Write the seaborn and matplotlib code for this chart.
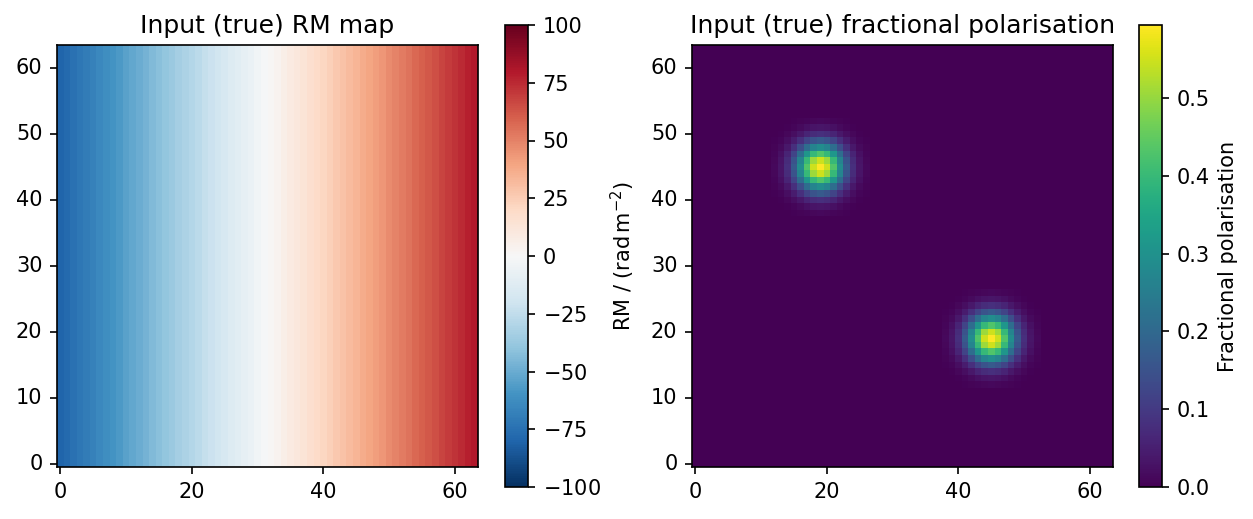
import numpy as np
import pandas as pd
import seaborn as sns
import matplotlib
matplotlib.use("Agg")
import matplotlib.pyplot as plt

# Input (true) RM per column of the 64x64 map (constant along y)
rm_columns = [-80.0, -77.5, -74.9, -72.4, -69.8, -67.3, -64.8, -62.2,
              -59.7, -57.1, -54.6, -52.1, -49.5, -47.0, -44.4, -41.9,
              -39.4, -36.8, -34.3, -31.7, -29.2, -26.7, -24.1, -21.6,
              -19.0, -16.5, -14.0, -11.4,  -8.9,  -6.3,  -3.8,  -1.3,
                1.3,   3.8,   6.3,   8.9,  11.4,  14.0,  16.5,  19.0,
               21.6,  24.1,  26.7,  29.2,  31.7,  34.3,  36.8,  39.4,
               41.9,  44.4,  47.0,  49.5,  52.1,  54.6,  57.1,  59.7,
               62.2,  64.8,  67.3,  69.8,  72.4,  74.9,  77.5,  80.0]

# Fractional polarisation sources: centres (x, y), peak value, 1D profile
src_x = [19, 45]
src_y = [45, 19]
src_peak = [0.594, 0.594]
profile = [0.02, 0.056, 0.135, 0.278, 0.487, 0.726, 0.923, 1.0,
           0.923, 0.726, 0.487, 0.278, 0.135, 0.056, 0.02]

npix = len(rm_columns)
rm_map = np.tile(np.array(rm_columns), (npix, 1))

frac = np.zeros((npix, npix))
prof = np.array(profile)
half = len(profile) // 2
for cx, cy, pk in zip(src_x, src_y, src_peak):
    frac[cy - half:cy + half + 1, cx - half:cx + half + 1] += pk * np.outer(prof, prof)

rm_df = pd.DataFrame(rm_map)
frac_df = pd.DataFrame(frac)

sns.set_style("ticks")
plt.rcParams["font.family"] = ["DejaVu Sans"]
plt.rcParams["axes.edgecolor"] = "black"
plt.rcParams["axes.labelcolor"] = "black"
plt.rcParams["text.color"] = "black"
plt.rcParams["xtick.color"] = "black"
plt.rcParams["ytick.color"] = "black"

W, H = 1253, 519
DPI = 150
fig = plt.figure(figsize=(W / DPI, H / DPI), dpi=DPI)
ax1 = fig.add_axes([57 / W, 1 - 467 / H, 421 / W, 422 / H])
cax1 = fig.add_axes([505 / W, 1 - 487 / H, 23 / W, 462 / H])
ax2 = fig.add_axes([692 / W, 1 - 467 / H, 421 / W, 422 / H])
cax2 = fig.add_axes([1139 / W, 1 - 487 / H, 23 / W, 462 / H])

sns.heatmap(rm_df, ax=ax1, cmap="RdBu_r", vmin=-100, vmax=100,
            cbar_ax=cax1, cbar_kws={"ticks": np.arange(-100, 101, 25)})
sns.heatmap(frac_df, ax=ax2, cmap="viridis", vmin=0, vmax=frac.max(),
            cbar_ax=cax2, cbar_kws={"ticks": np.arange(0, 0.51, 0.1)})

for ax, title in [(ax1, "Input (true) RM map"),
                  (ax2, "Input (true) fractional polarisation")]:
    ax.invert_yaxis()
    ax.set_xlim(0, npix)
    ax.set_ylim(0, npix)
    ax.set_xticks(np.arange(0, npix, 20) + 0.5)
    ax.set_xticklabels([str(v) for v in range(0, npix, 20)], rotation=0)
    ax.set_yticks(np.arange(0, npix, 10) + 0.5)
    ax.set_yticklabels([str(v) for v in range(0, npix, 10)], rotation=0)
    ax.set_xlabel("")
    ax.set_ylabel("")
    ax.tick_params(labelsize=10, length=3.5, width=0.8)
    for s in ax.spines.values():
        s.set_visible(True)
        s.set_linewidth(0.8)
    ax.set_title(title, fontsize=12)

cb1 = ax1.collections[0].colorbar
cb1.set_label(r"RM / (rad$\,$m$^{-2}$)", fontsize=10)
cb1.ax.set_yticklabels([r"$-$100", r"$-$75", r"$-$50", r"$-$25", "0", "25", "50", "75", "100"])
cb2 = ax2.collections[0].colorbar
cb2.set_label("Fractional polarisation", fontsize=10)
cb2.ax.set_yticklabels(["0.0", "0.1", "0.2", "0.3", "0.4", "0.5"])
for cb in (cb1, cb2):
    cb.outline.set_visible(True)
    cb.outline.set_linewidth(0.8)
    cb.outline.set_edgecolor("black")
    cb.ax.tick_params(labelsize=10, length=3.5, width=0.8)

fig.savefig("out.png", dpi=DPI)
